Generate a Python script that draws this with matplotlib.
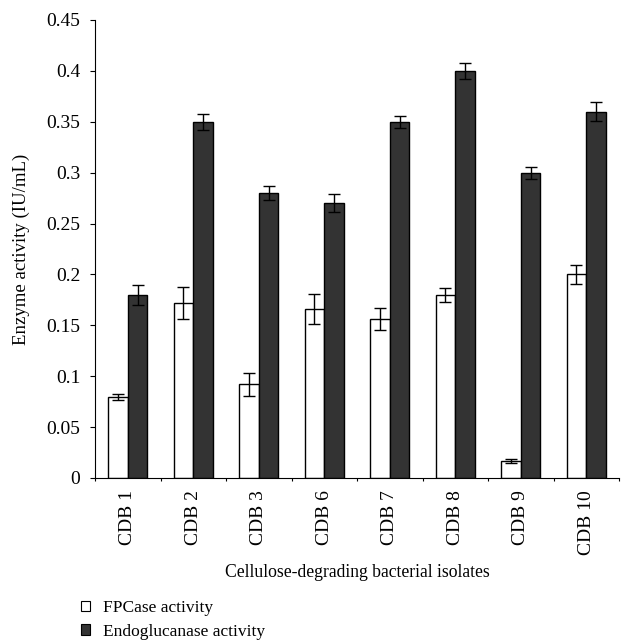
import numpy as np
import matplotlib
matplotlib.use("Agg")
import matplotlib.pyplot as plt
from matplotlib.patches import Patch

plt.rcParams['font.family'] = ['Liberation Serif', 'DejaVu Serif']

isolates = ['CDB 1', 'CDB 2', 'CDB 3', 'CDB 6', 'CDB 7', 'CDB 8', 'CDB 9', 'CDB 10']
fpcase = [0.080, 0.172, 0.092, 0.166, 0.156, 0.180, 0.017, 0.200]
fpcase_err = [0.003, 0.016, 0.011, 0.015, 0.011, 0.007, 0.002, 0.009]
endo = [0.180, 0.350, 0.280, 0.270, 0.350, 0.400, 0.300, 0.360]
endo_err = [0.010, 0.008, 0.007, 0.009, 0.006, 0.008, 0.006, 0.009]

fig = plt.figure(figsize=(6.22, 6.43), dpi=100)
ax = fig.add_axes([95/622, 1 - 478/643, 524/622, 458/643])

x = np.arange(len(isolates)) + 0.5
w = 0.3
err_kw = dict(ecolor='black', elinewidth=1.0, capsize=4, capthick=1.0)
ax.bar(x - w/2, fpcase, w, yerr=fpcase_err, color='white', edgecolor='black',
       linewidth=1.0, error_kw=err_kw, label='FPCase activity')
ax.bar(x + w/2, endo, w, yerr=endo_err, color='#333333', edgecolor='black',
       linewidth=1.0, error_kw=err_kw, label='Endoglucanase activity')

ax.set_xlim(0, len(isolates))
ax.set_ylim(0, 0.45)
ax.set_yticks(np.arange(0, 0.451, 0.05))
ax.set_yticklabels(['0', '0.05', '0.1', '0.15', '0.2', '0.25', '0.3', '0.35', '0.4', '0.45'])
ax.set_xticks(np.arange(0, len(isolates) + 1))
ax.set_xticklabels([])
ax.set_xticks(x, minor=True)
ax.set_xticklabels(isolates, minor=True, rotation=90, fontsize=14)
ax.tick_params(axis='x', which='minor', length=0, pad=8.5)
ax.tick_params(axis='x', which='major', direction='out', length=2.5)
ax.tick_params(axis='y', which='major', direction='out', length=3.6, pad=7,
               labelsize=14)
for s in ['top', 'right']:
    ax.spines[s].set_visible(False)

ax.set_ylabel('Enzyme activity (IU/mL)', fontsize=13.5, labelpad=12)
ax.set_xlabel('Cellulose-degrading bacterial isolates', fontsize=12.7, labelpad=7)

handles = [Patch(facecolor='white', edgecolor='black', linewidth=0.8),
           Patch(facecolor='#333333', edgecolor='black', linewidth=0.8)]
fig.legend(handles, ['FPCase activity', 'Endoglucanase activity'],
           loc='upper left', bbox_to_anchor=(74/622, 1 - 593/643), frameon=False,
           fontsize=12.5, handlelength=0.55, handleheight=0.55, handletextpad=0.7,
           labelspacing=0.45, borderaxespad=0)

fig.savefig('out.png', dpi=100)
